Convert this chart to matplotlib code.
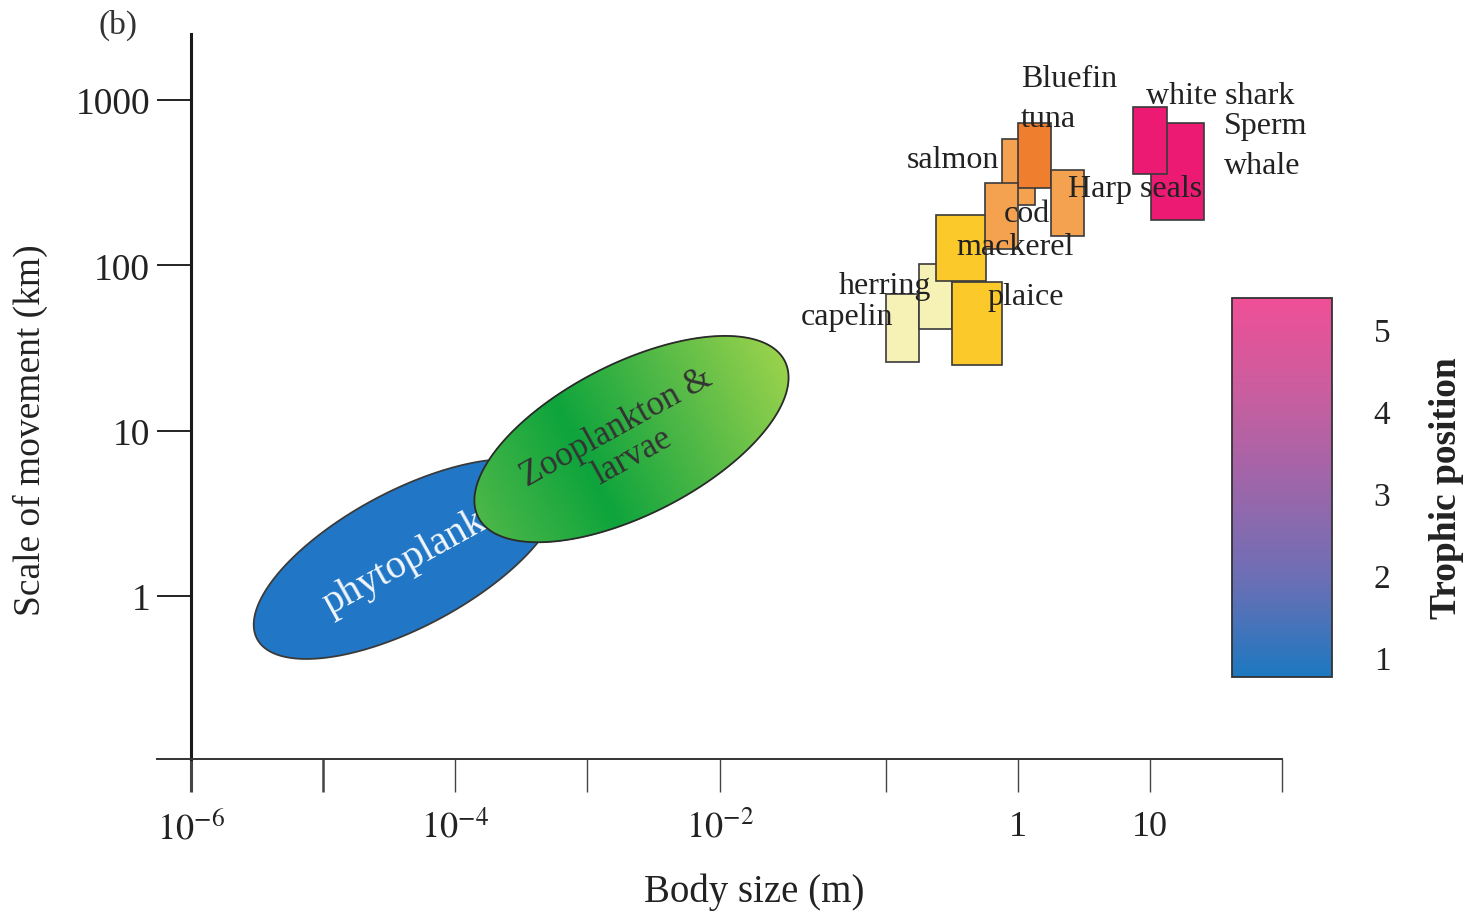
import numpy as np
import matplotlib
matplotlib.use('Agg')
from matplotlib import pyplot as plt
from matplotlib.colors import LinearSegmentedColormap, Normalize
from matplotlib.cm import ScalarMappable
from matplotlib.patches import Rectangle

# ---- data -----------------------------------------------------------------
# fish / mammals: body size range (m) and scale of movement range (km)
species = ['capelin', 'herring', 'mackerel', 'plaice', 'salmon',
           'Bluefin tuna', 'cod', 'Harp seals', 'Sperm whale', 'white shark']
size_lo = [0.10, 0.18, 0.24, 0.32, 0.76, 1.00, 0.56, 1.78, 10.2, 7.4]
size_hi = [0.18, 0.32, 0.57, 0.76, 1.35, 1.78, 1.00, 3.16, 25.6, 13.4]
move_lo = [26, 41, 80, 25, 232, 294, 126, 151, 188, 357]
move_hi = [67, 102, 202, 79, 582, 727, 315, 378, 727, 908]
box_colors = ['#f6f1b4', '#f6f1b4', '#fcc92a', '#fcc92a', '#f4a24f',
              '#ef7f2e', '#f4a24f', '#f4a24f', '#ec1a72', '#ec1a72']

# plankton: ends of the long axis of each ellipse (size m, movement km)
plankton = ['phytoplankton', 'Zooplankton & larvae']
plank_x1 = [3.16e-6, 1.49e-4]
plank_y1 = [0.55, 3.0]
plank_x2 = [5.9e-4, 0.0247]
plank_y2 = [5.1, 26.4]
plank_ratio = [0.40, 0.44]

# labels next to the boxes
lab_text = ['Bluefin', 'tuna', 'white shark', 'Sperm', 'whale', 'salmon',
            'Harp seals', 'cod', 'mackerel', 'herring', 'capelin', 'plaice']
lab_x = [1.05, 1.05, 9.3, 36.4, 36.4, 0.72, 2.39, 0.78, 0.34, 0.052, 0.031, 0.59]
lab_y = [1360, 770, 1060, 700, 405, 435, 294, 207, 131, 76, 49, 65]
lab_ha = ['left', 'left', 'left', 'left', 'left', 'right',
          'left', 'left', 'left', 'left', 'left', 'left']

xticks = [1e-6, 1e-5, 1e-4, 1e-3, 1e-2, 1e-1, 1, 10, 100]
xticklabels = [r'$10^{-6}$', '', r'$10^{-4}$', '', r'$10^{-2}$', '', '1', '10', '']
yticks = [1, 10, 100, 1000]
yticklabels = ['1', '10', '100', '1000']

trophic_ticks = [1, 2, 3, 4, 5]
trophic_colors = ['#1c78c0', '#6a6fb5', '#9c66aa', '#c95e9f', '#ef4f96']

plt.rcParams['font.family'] = 'Liberation Serif'
plt.rcParams['mathtext.fontset'] = 'stix'

# the drawn axis has a wider gap between 10^-2 and 10^-1
STRETCH = 0.258


def fwd(x):
    with np.errstate(divide='ignore', invalid='ignore'):
        l = np.log10(np.asarray(x, float))
    return l + STRETCH * np.clip(l + 2, 0, 1)


def inv(u):
    u = np.asarray(u, float)
    l = np.where(u <= -2, u,
                 np.where(u <= -1 + STRETCH, -2 + (u + 2) / (1 + STRETCH), u - STRETCH))
    return 10 ** l


fig = plt.figure(figsize=(14.74, 9.12), dpi=100)
ax = fig.add_axes([157 / 1474, 1 - 760 / 912, 1125 / 1474, 725 / 912])
ax.set_xscale('function', functions=(fwd, inv))
ax.set_yscale('log')
ax.set_xlim(10 ** -6.258, 100)
ax.set_ylim(10 ** -0.986, 10 ** 3.40)

for s in ['top', 'right']:
    ax.spines[s].set_visible(False)
ax.spines['left'].set_position(('data', 1e-6))
ax.spines['left'].set_linewidth(2.2)
ax.spines['bottom'].set_linewidth(1.4)
ax.spines['left'].set_color('#1a1a1a')
ax.spines['bottom'].set_color('#333333')

ax.set_xticks(xticks)
ax.set_xticklabels(xticklabels)
ax.set_yticks(yticks)
ax.set_yticklabels(yticklabels)
ax.minorticks_off()
ax.tick_params(axis='x', direction='out', length=23.8, width=1.0, color='#444444',
               pad=13, labelsize=26, labelcolor='#222222')
ax.tick_params(axis='y', direction='out', length=24.5, width=1.4, color='#222222',
               pad=5, labelsize=27, labelcolor='#222222')
xt = ax.xaxis.get_major_ticks()
xt[0].tick1line.set_markeredgewidth(2.2)
xt[0].tick1line.set_color('#1a1a1a')
xt[1].tick1line.set_markeredgewidth(1.8)
xt[1].tick1line.set_color('#1a1a1a')

ax.set_xlabel('Body size (m)', fontsize=28, color='#222222')
ax.xaxis.set_label_coords(0.531, -0.157)
ax.set_ylabel('Scale of movement (km)', fontsize=27, color='#222222')
ax.yaxis.set_label_coords(-0.097, 0.455)

# ---- plankton ellipses ----------------------------------------------------
def ellipse_frame(i):
    d1 = ax.transData.transform((plank_x1[i], plank_y1[i]))
    d2 = ax.transData.transform((plank_x2[i], plank_y2[i]))
    c = (d1 + d2) / 2
    half = (d2 - d1) / 2
    a = np.hypot(*half)
    e1 = half / a
    e2 = np.array([-e1[1], e1[0]])
    return c, a * e1, a * plank_ratio[i] * e2


def ellipse_grid(i, rho, t):
    c, A, B = ellipse_frame(i)
    R, T = np.meshgrid(rho, t)
    pts = c + (R * np.cos(T))[..., None] * A + (R * np.sin(T))[..., None] * B
    flat = ax.transData.inverted().transform(pts.reshape(-1, 2))
    return flat[:, 0].reshape(R.shape), flat[:, 1].reshape(R.shape), R * np.cos(T)


t = np.linspace(0, 2 * np.pi, 241)
rho = np.linspace(0, 1, 30)

# phytoplankton
X, Y, S = ellipse_grid(0, np.array([1.0]), t)
ax.fill(X[:, 0], Y[:, 0], facecolor='#2177c6', edgecolor='#3a3a3a', lw=1.3, zorder=2)
ax.text(1.13e-5, 0.78, 'phytoplankton', rotation=29, rotation_mode='anchor',
        ha='left', va='baseline', fontsize=29, color='#f2f6fb', zorder=3)

# zooplankton, shaded green
green = LinearSegmentedColormap.from_list(
    'zoo', [(0.0, '#4cb748'), (0.35, '#0ea43c'), (0.65, '#4fb846'), (1.0, '#9ad24c')])
X, Y, S = ellipse_grid(1, rho, t)
ax.pcolormesh(X, Y, S, shading='gouraud', cmap=green, vmin=-1, vmax=1, zorder=4)
X, Y, S = ellipse_grid(1, np.array([1.0]), t)
ax.fill(X[:, 0], Y[:, 0], facecolor='none', edgecolor='#2a2a2a', lw=1.3, zorder=5)
ax.text(1.9e-3, 8.6, 'Zooplankton &\nlarvae', rotation=29, rotation_mode='anchor',
        ha='center', va='center', multialignment='center', linespacing=1.0,
        fontsize=25, color='#333333', zorder=6)

# ---- species boxes ----------------------------------------------------------
for i in range(len(species)):
    ax.add_patch(Rectangle((size_lo[i], move_lo[i]), size_hi[i] - size_lo[i],
                           move_hi[i] - move_lo[i], facecolor=box_colors[i],
                           edgecolor='#3a3a3a', lw=1.2, zorder=7 + i * 0.01))

for i in range(len(lab_text)):
    ax.text(lab_x[i], lab_y[i], lab_text[i], ha=lab_ha[i], va='center',
            fontsize=23, color='#222222', zorder=9)

# ---- colour bar -------------------------------------------------------------
troph = LinearSegmentedColormap.from_list('troph', trophic_colors)
cax = fig.add_axes([1232 / 1474, 1 - 678 / 912, 100 / 1474, 379 / 912])
sm = ScalarMappable(norm=Normalize(0.76, 5.38), cmap=troph)
cbar = fig.colorbar(sm, cax=cax)
cbar.set_ticks(trophic_ticks)
cbar.ax.tick_params(length=0, pad=30, labelsize=24, labelcolor='#222222')
cbar.outline.set_linewidth(1.3)
cbar.outline.set_edgecolor('#333333')
fig.text(1446 / 1474, 1 - 488 / 912, 'Trophic position', rotation=90,
         ha='center', va='center', fontsize=27, fontweight='bold', color='#222222')

fig.text(118 / 1474, 1 - 25 / 912, '(b)', ha='center', va='center',
         fontsize=24, color='#333333')

fig.savefig('out.png', dpi=100)
